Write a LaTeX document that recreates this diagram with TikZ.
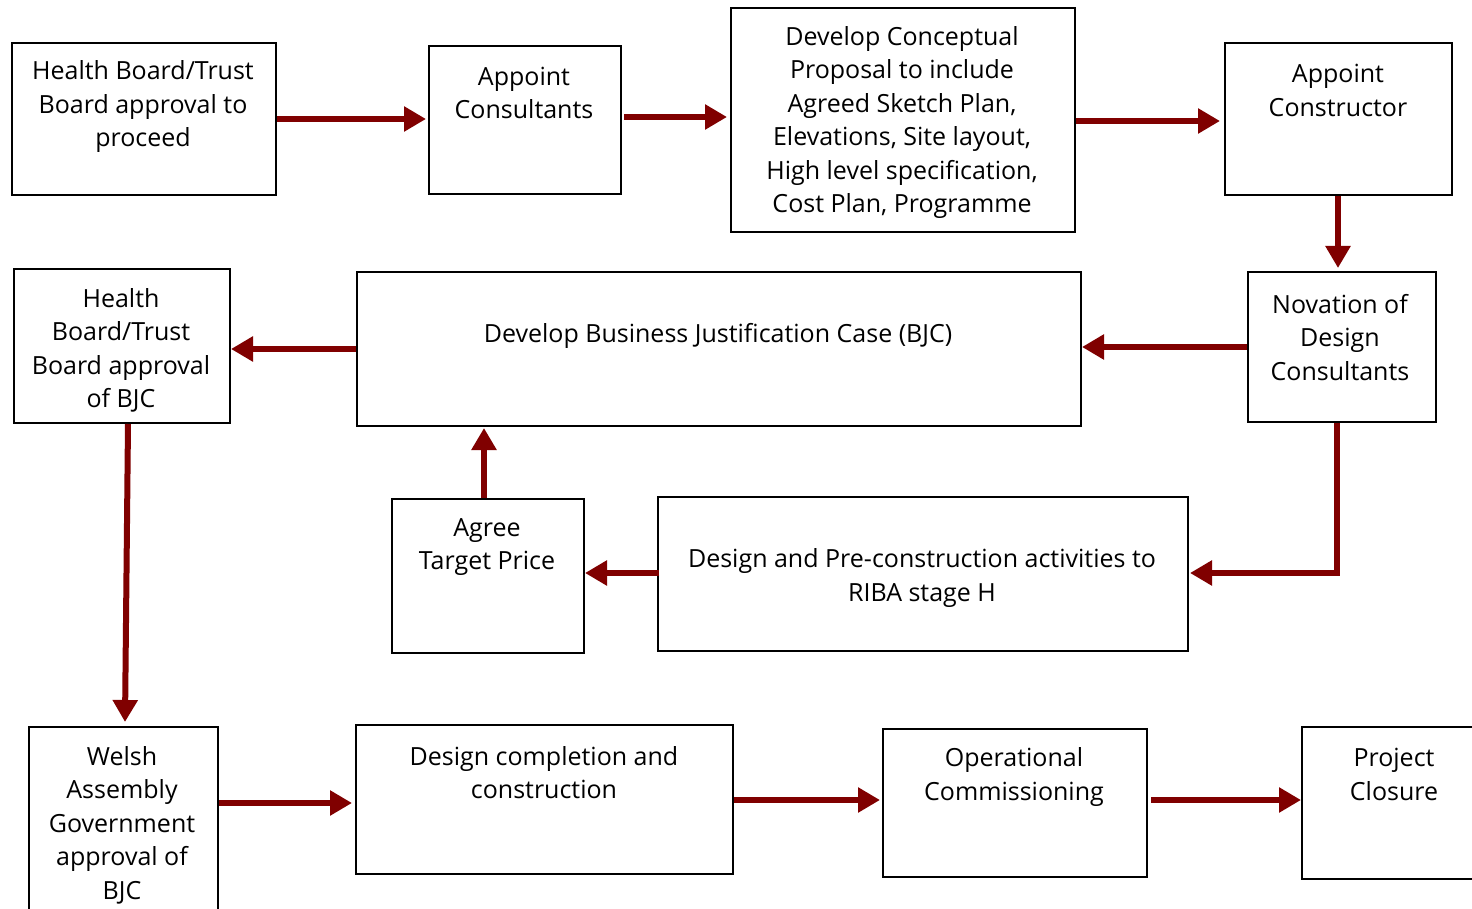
\documentclass[tikz,border=0pt]{standalone}
\usepackage{fontspec}
\setmainfont{Open Sans}
\usetikzlibrary{arrows.meta}
\definecolor{arr}{RGB}{128,0,0}
\tikzset{
  box/.style 2 args={draw=black, line width=1pt, anchor=north west, inner sep=0pt, minimum width=#1*0.5pt, minimum height=#2*0.5pt},
  txt/.style={align=center, font=\fontsize{12.5pt}{16.75pt}\selectfont, inner sep=0pt, yshift=-1.5pt},
  flow/.style={draw=arr, line width=3pt, -{Triangle[length=11pt,width=12pt]}},
}
\begin{document}
\begin{tikzpicture}[x=0.5pt,y=-0.5pt]
\clip (0,0) rectangle (1472,909);
\fill[white] (0,0) rectangle (1472,909);
% boxes
\node[box={264}{152}] (b1) at (11,42) {};
\node[box={192}{148}] (b2) at (428,45) {};
\node[box={344}{224}] (b3) at (730,7) {};
\node[box={227}{152}] (b4) at (1224,42) {};
\node[box={216}{154}] (b5) at (13,268) {};
\node[box={724}{154}] (b6) at (356,271) {};
\node[box={188}{150}] (b7) at (1247,271) {};
\node[box={192}{154}] (b8) at (391,498) {};
\node[box={530}{154}] (b9) at (657,496) {};
\node[box={189}{200}] (b10) at (28,726) {};
\node[box={377}{149}] (b11) at (355,724) {};
\node[box={264}{148}] (b12) at (882,728) {};
\node[box={200}{152}] (b13) at (1301,726) {};
% texts
\node[txt] (t1) at (143,104) {Health Board/Trust\\Board approval to\\proceed};
\node[txt] (t2) at (524,90) {Appoint\\Consultants};
\node[txt] (t3) at (902,119.5) {Develop Conceptual\\Proposal to include\\Agreed Sketch Plan,\\Elevations, Site layout,\\High level specification,\\Cost Plan, Programme};
\node[txt] (t4) at (1338,87.5) {Appoint\\Constructor};
\node[txt] (t5) at (121,347.5) {Health\\Board/Trust\\Board approval\\of BJC};
\node[txt] (t6) at (718,333) {Develop Business Justification Case (BJC)};
\node[txt] (t7) at (1340,334.5) {Novation of\\Design\\Consultants};
\node[txt] (t8) at (487,544) {Agree\\Target Price};
\node[txt] (t9) at (922,575) {Design and Pre-construction activities to\\RIBA stage H};
\node[txt] (t10) at (122,822) {Welsh\\Assembly\\Government\\approval of\\BJC};
\node[txt] (t11) at (544,769.5) {Design completion and\\construction};
\node[txt] (t12) at (1014,774) {Operational\\Commissioning};
\node[txt] (t13) at (1394,771.5) {Project\\Closure};
% arrows
\draw[flow] (b1.east |- 0,119) -- ([xshift=-1pt]b2.west |- 0,119);
\draw[flow] ([xshift=1pt]b2.east |- 0,117) -- ([xshift=-1.5pt]b3.west |- 0,117);
\draw[flow] (b3.east |- 0,121) -- ([xshift=-2pt]b4.west |- 0,121);
\draw[flow] (1338,0 |- b4.south) -- ([yshift=1.5pt]1338,0 |- b7.north);
\draw[flow] (b7.west |- 0,347) -- (b6.east |- 0,347);
\draw[flow] (b6.west |- 0,349) -- (b5.east |- 0,349);
\draw[flow] (1337,0 |- b7.south) |- ([xshift=0.5pt]b9.east |- 0,573);
\draw[flow] ([xshift=1pt]b9.west |- 0,573) -- (b8.east |- 0,573);
\draw[flow] (484,0 |- b8.north) -- ([yshift=-0.5pt]484,0 |- b6.south);
\draw[flow] (128,0 |- b5.south) -- ([yshift=2pt]125,0 |- b10.north);
\draw[flow] (b10.east |- 0,803) -- ([xshift=-1.5pt]b11.west |- 0,803);
\draw[flow] (b11.east |- 0,800) -- ([xshift=-1pt]b12.west |- 0,800);
\draw[flow] ([xshift=1.5pt]b12.east |- 0,800) -- (b13.west |- 0,800);
\end{tikzpicture}
\end{document}
